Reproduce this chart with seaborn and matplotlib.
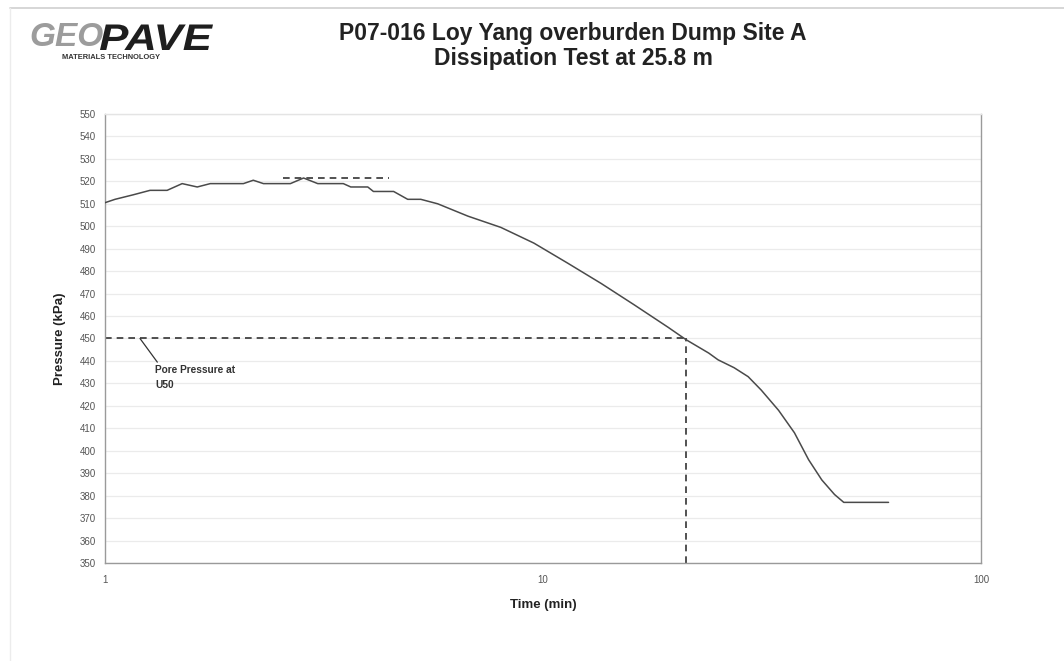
import matplotlib
matplotlib.use("Agg")
import matplotlib.pyplot as plt
import seaborn as sns
import pandas as pd
from matplotlib.lines import Line2D
from matplotlib.textpath import TextPath
from matplotlib.patches import PathPatch
from matplotlib.font_manager import FontProperties
from matplotlib.transforms import Affine2D, IdentityTransform

# dissipation test readings (time in minutes, pore pressure in kPa)
time_min = [1.0, 1.054, 1.159, 1.267, 1.386, 1.50, 1.624, 1.739, 2.07, 2.18,
            2.30, 2.65, 2.84, 3.06, 3.50, 3.64, 3.98, 4.10, 4.56, 4.91,
            5.26, 5.75, 6.74, 8.01, 9.53, 11.4, 13.58, 16.15, 19.3, 21.2,
            23.9, 25.1, 27.3, 29.4, 31.5, 34.5, 37.5, 40.4, 43.3, 46.3,
            48.6, 52.8, 61.5]
pressure_kpa = [510.5, 512, 514, 516, 516, 519, 517.5, 519, 519, 520.5,
                519, 519, 521.5, 519, 519, 517.5, 517.5, 515.5, 515.5, 512,
                512, 510, 504.5, 499.5, 492.5, 483.5, 474.5, 465, 455, 449.5,
                443.5, 440.5, 437, 433, 427, 418, 408, 396, 387, 380.5,
                377, 377, 377]

# reference lines
u50_pressure = 450
t50_time = 21.2
peak_pressure = 521.5
peak_span = [2.55, 4.44]

y_ticks = list(range(350, 551, 10))
x_ticks = [1, 10, 100]

title_text = "P07-016 Loy Yang overburden Dump Site A\nDissipation Test at 25.8 m"

sns.set_style("white")
plt.rcParams['font.family'] = ['Liberation Sans', 'DejaVu Sans']

df = pd.DataFrame({'time': time_min, 'pressure': pressure_kpa})

fig = plt.figure(figsize=(10.64, 6.61), dpi=100)
ax = fig.add_axes([0.0987, 0.1483, 0.8233, 0.6792])

# faint horizontal grid
for yv in y_ticks:
    ax.axhline(yv, color='#ebebeb', lw=0.9, zorder=0)

sns.lineplot(data=df, x='time', y='pressure', ax=ax, estimator=None, sort=False,
             color='#4a4a4a', lw=1.1, zorder=3)

# U50 dashed lines
ax.plot([1, t50_time], [u50_pressure, u50_pressure], ls=(0, (4, 3)), color='#333333', lw=1.2)
ax.plot([t50_time, t50_time], [350, u50_pressure], ls=(0, (4, 3)), color='#333333', lw=1.2)
ax.plot(peak_span, [peak_pressure, peak_pressure], ls=(0, (4, 3)), color='#333333', lw=1.2)

ax.annotate("Pore Pressure at\nU50", xy=(1.202, u50_pressure), xytext=(1.30, 438.0),
            fontsize=7.3, fontweight='bold', color='#333333', va='top', ha='left',
            linespacing=1.55,
            arrowprops=dict(arrowstyle='-', color='#333333', lw=0.9, relpos=(0.06, 1.0),
                            shrinkA=0, shrinkB=0))

ax.set_xscale('log')
ax.set_xlim(1, 100)
ax.set_ylim(350, 550)
ax.set_xticks(x_ticks)
ax.set_xticklabels([str(v) for v in x_ticks])
ax.minorticks_off()
ax.set_yticks(y_ticks)
ax.tick_params(axis='both', labelsize=7, colors='#555555', length=3, width=0.6, direction='out')
ax.tick_params(axis='x', pad=6)

for side in ['left', 'bottom', 'right', 'top']:
    ax.spines[side].set_visible(True)
    ax.spines[side].set_color('#9a9a9a')
    ax.spines[side].set_linewidth(1.0)
ax.spines['top'].set_color('#e4e4e4')

ax.set_xlabel("Time (min)", fontsize=9.5, fontweight='bold', color='#222222', labelpad=10)
ax.set_ylabel("Pressure (kPa)", fontsize=9.5, fontweight='bold', color='#222222', labelpad=10)

fig.text(0.5385, 0.930, title_text, ha='center', va='center', fontsize=16.5,
         fontweight='bold', color='#222222', linespacing=1.12)

# logo
fig.text(0.028, 0.943, "GEO", fontsize=24, fontweight='bold', style='italic',
         color='#9c9c9c', va='center', ha='left')
logo_fp = FontProperties(family='Liberation Sans', weight='bold', style='italic', size=24)
pave = TextPath((0, 0), "PAVE", prop=logo_fp)
pbox = pave.get_extents()
sx = 113.0 / pbox.width
sy = 25.5 / pbox.height
tr = Affine2D().translate(-pbox.x0, -pbox.y0).scale(sx, sy).translate(100, 661 - 50) + IdentityTransform()
fig.add_artist(PathPatch(pave, transform=tr, color='#1e1e1e', lw=0))
fig.text(0.058, 0.913, "MATERIALS TECHNOLOGY", fontsize=5.4, fontweight='bold',
         color='#333333', va='center', ha='left')

# scanned page border
border = '#d0d0d0'
fig.add_artist(Line2D([0.009, 1.0], [0.988, 0.988], color=border, lw=1.2))
fig.add_artist(Line2D([0.009, 0.009], [0.0, 0.988], color='#ececec', lw=1.0))

fig.savefig("out.png", dpi=100)
